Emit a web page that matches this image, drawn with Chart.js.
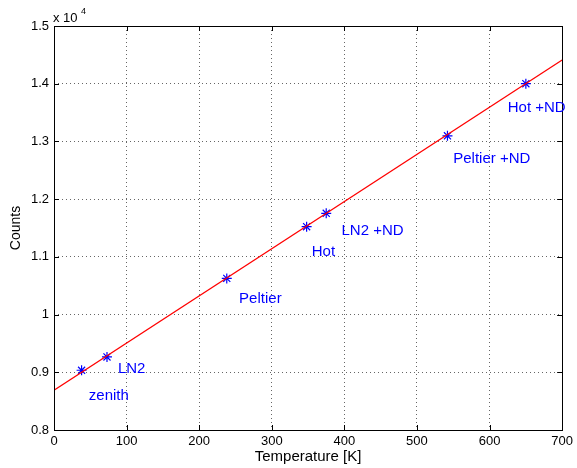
<!DOCTYPE html>
<html>
<head>
<meta charset="utf-8">
<script src="https://cdn.jsdelivr.net/npm/chart.js@4"></script>
<style>
  html, body { margin: 0; padding: 0; background: #fff; }
  #wrap { width: 577px; height: 468px; }
</style>
</head>
<body>
<div id="wrap"><canvas id="grafico" width="577" height="468"></canvas></div>
<script>
// medidas: temperatura de la fuente [K] y cuentas
let temperaturas = [38, 73, 238, 348, 375, 542, 650];
let cuentas = [9035, 9266, 10627, 11523, 11755, 13097, 14000];
let nombres = ["zenith", "LN2", "Peltier", "Hot", "LN2 +ND", "Peltier +ND", "Hot +ND"];

// posicion de cada etiqueta (en unidades de los ejes)
let etiquetaX = [48, 88, 255, 355, 396, 550, 625];
let etiquetaY = [8589, 9052, 10280, 11089, 11453, 12698, 13589];

// recta de ajuste (extremos)
let ajusteX = [0, 700];
let ajusteY = [8690, 14410];

let ticksX = [0, 100, 200, 300, 400, 500, 600, 700];
let ticksY = ["0.8", "0.9", "1", "1.1", "1.2", "1.3", "1.4", "1.5"];

const fuente = "'Liberation Sans', Arial, Helvetica, sans-serif";

// caja, marcas hacia adentro, exponente y etiquetas de texto
const marco = {
    id: "marco",
    afterDatasetsDraw(chart) {
        const ctx = chart.ctx;
        const a = chart.chartArea;
        const sx = chart.scales.x;
        const sy = chart.scales.y;
        ctx.save();
        ctx.strokeStyle = "#000";
        ctx.lineWidth = 1;
        ctx.strokeRect(Math.round(a.left) + 0.5, Math.round(a.top) + 0.5,
            Math.round(a.right - a.left), Math.round(a.bottom - a.top));
        ctx.beginPath();
        ticksX.forEach(v => {
            const px = Math.round(sx.getPixelForValue(v)) + 0.5;
            ctx.moveTo(px, a.bottom); ctx.lineTo(px, a.bottom - 5);
            ctx.moveTo(px, a.top); ctx.lineTo(px, a.top + 5);
        });
        ticksY.forEach(t => {
            const py = Math.round(sy.getPixelForValue(parseFloat(t) * 10000)) + 0.5;
            ctx.moveTo(a.left, py); ctx.lineTo(a.left + 5, py);
            ctx.moveTo(a.right, py); ctx.lineTo(a.right - 5, py);
        });
        ctx.stroke();

        ctx.fillStyle = "#000";
        ctx.textBaseline = "alphabetic";
        ctx.textAlign = "left";
        ctx.font = "13px " + fuente;
        ctx.fillText("x 10", 53, 22);
        ctx.font = "9px " + fuente;
        ctx.fillText("4", 81, 14);

        ctx.fillStyle = "#0000ff";
        ctx.font = "15px " + fuente;
        ctx.textBaseline = "middle";
        nombres.forEach((n, i) => {
            ctx.fillText(n, sx.getPixelForValue(etiquetaX[i]), sy.getPixelForValue(etiquetaY[i]));
        });
        ctx.restore();
    }
};

const ctx = document.getElementById("grafico");

let grafico = new Chart(ctx, {
    type: "scatter",
    data: {
        datasets: [{
            type: "line",
            label: "ajuste",
            data: ajusteX.map((x, i) => ({ x: x, y: ajusteY[i] })),
            borderColor: "#ff0000",
            borderWidth: 1.3,
            pointRadius: 0,
            fill: false
        }, {
            label: "medidas",
            data: temperaturas.map((t, i) => ({ x: t, y: cuentas[i] })),
            pointStyle: "star",
            pointRadius: 5,
            borderColor: "#0000ff",
            backgroundColor: "#0000ff",
            borderWidth: 1.2
        }]
    },
    options: {
        responsive: false,
        animation: false,
        layout: { padding: { top: 26, right: 12, left: 0, bottom: 0 } },
        plugins: { legend: { display: false }, tooltip: { enabled: false } },
        scales: {
            x: {
                type: "linear",
                min: 0, max: 700,
                afterFit: s => { s.height = 38; },
                afterBuildTicks: s => { s.ticks = ticksX.map(v => ({ value: v })); },
                ticks: { color: "#000", padding: 4, font: { family: fuente, size: 13 } },
                grid: { color: "#666", drawTicks: false, lineWidth: 1 },
                border: { display: false, dash: [1, 3] },
                title: { display: true, text: "Temperature [K]", color: "#000",
                    font: { family: fuente, size: 15 }, padding: { top: 0, bottom: 2 } }
            },
            y: {
                type: "linear",
                min: 8000, max: 15000,
                afterFit: s => { s.width = 54; },
                afterBuildTicks: s => { s.ticks = ticksY.map(t => ({ value: parseFloat(t) * 10000 })); },
                ticks: { color: "#000", padding: 5, font: { family: fuente, size: 13 },
                    callback: (v, i) => ticksY[i] },
                grid: { color: "#666", drawTicks: false, lineWidth: 1 },
                border: { display: false, dash: [1, 3] },
                title: { display: true, text: "Counts", color: "#000",
                    font: { family: fuente, size: 14 }, padding: { top: 8, bottom: 0 } }
            }
        }
    },
    plugins: [marco]
});
</script>
</body>
</html>
